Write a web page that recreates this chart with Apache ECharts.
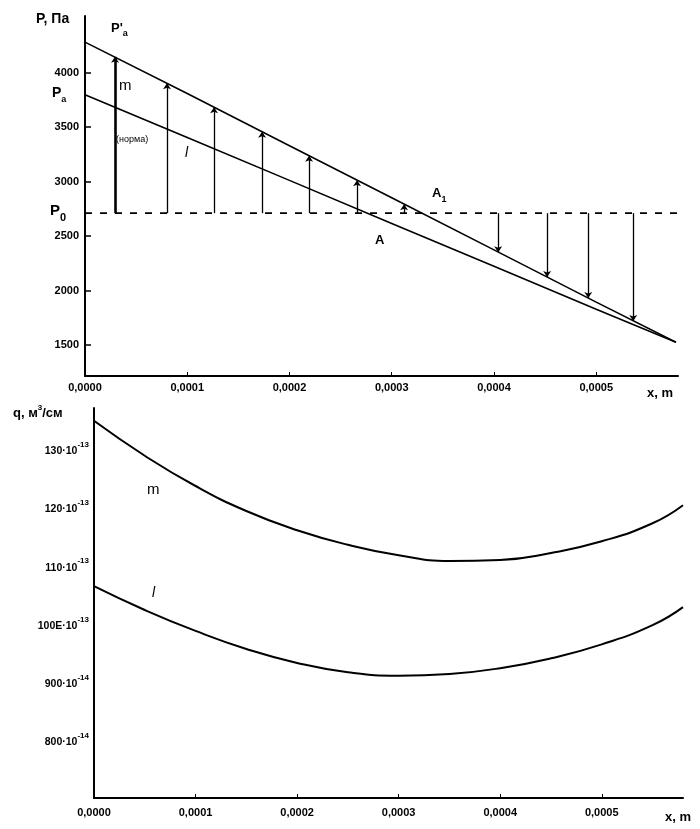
<!DOCTYPE html>
<html>
<head>
<meta charset="utf-8">
<script src="https://cdn.jsdelivr.net/npm/echarts@6/dist/echarts.min.js"></script>
<style>
html,body{margin:0;padding:0;background:#fff;}
#chart{width:700px;height:829px;}
</style>
</head>
<body>
<div id="chart"></div>
<script>
// ---- Top chart: pressure P, Pa vs x, m ----
const topX = [0, 0.0001, 0.0002, 0.0003, 0.0004, 0.0005, 0.000578];
const pPrimeA = [4280, 3808, 3329, 2851, 2373, 1893, 1525];   // line m (P'a)
const pA = [3798, 3405, 3011, 2616, 2222, 1828, 1525];        // line l (Pa, норма)
const p0Value = 2710;
const p0X = [0, 0.00058];
const arrowX = [0.0000294, 0.0000802, 0.0001262, 0.0001732, 0.0002192, 0.0002661, 0.0003121, 0.0004041, 0.000452, 0.0004922, 0.0005362];
const arrowTip = [4145, 3902, 3682, 3458, 3238, 3013, 2792, 2352, 2123, 1931, 1720];
const pTicks = [1500, 2000, 2500, 3000, 3500, 4000];
const xTicks = [0, 0.0001, 0.0002, 0.0003, 0.0004, 0.0005];

// ---- Bottom chart: q (units of 10^-13 m3/cm) vs x, m ----
const qX = [0, 0.00005, 0.0001, 0.00015, 0.0002, 0.00025, 0.0003, 0.00035, 0.0004, 0.00045, 0.0005, 0.00055, 0.00058];
const qM = [134.8, 128.8, 123.6, 119.3, 116.0, 113.5, 111.7, 110.7, 110.9, 112.1, 114.1, 117.2, 120.3];
const qL = [106.4, 102.3, 98.7, 95.6, 93.2, 91.6, 91.0, 91.3, 92.3, 94.0, 96.4, 99.7, 102.8];
const qTicks = [80, 90, 100, 110, 120, 130];
const qTickBase = ['800·10', '900·10', '100E·10', '110·10', '120·10', '130·10'];
const qTickExp = ['-14', '-14', '-13', '-13', '-13', '-13'];

const FONT = '"Liberation Sans", Arial, sans-serif';
const zip = (xs, ys) => xs.map((x, i) => [x, ys[i]]);
const fmtX = v => v.toFixed(4).replace('.', ',');

const chart = echarts.init(document.getElementById('chart'), null, {renderer: 'canvas'});

const axisLineStyle = {show: true, lineStyle: {color: '#000', width: 2}};

const arrowData = arrowX.map((x, i) => [
  {coord: [x, p0Value], lineStyle: {width: i === 0 ? 2.6 : 1.3}},
  {coord: [x, arrowTip[i]]}
]);

const option = {
  animation: false,
  backgroundColor: '#fff',
  textStyle: {fontFamily: FONT, color: '#000'},
  grid: [
    {left: 85, right: 22, top: 16, height: 360},
    {left: 94, right: 17, top: 408, height: 390}
  ],
  xAxis: [
    {
      gridIndex: 0, type: 'value', min: 0, max: 0.00058,
      axisLine: axisLineStyle,
      axisTick: {show: true, inside: true, length: 4, customValues: xTicks, lineStyle: {color: '#000', width: 1}},
      axisLabel: {customValues: xTicks, formatter: fmtX, color: '#000', fontSize: 11, fontWeight: 'bold', margin: 6, fontFamily: FONT},
      splitLine: {show: false}
    },
    {
      gridIndex: 1, type: 'value', min: 0, max: 0.00058,
      axisLine: axisLineStyle,
      axisTick: {show: true, inside: true, length: 4, customValues: xTicks, lineStyle: {color: '#000', width: 1}},
      axisLabel: {customValues: xTicks, formatter: fmtX, color: '#000', fontSize: 11, fontWeight: 'bold', margin: 9, fontFamily: FONT},
      splitLine: {show: false}
    }
  ],
  yAxis: [
    {
      gridIndex: 0, type: 'value', min: 1215, max: 4520,
      axisLine: axisLineStyle,
      axisTick: {show: true, inside: true, length: 6, customValues: pTicks, lineStyle: {color: '#000', width: 1.5}},
      axisLabel: {customValues: pTicks, formatter: v => String(v), color: '#000', fontSize: 11, fontWeight: 'bold', margin: 6, fontFamily: FONT},
      splitLine: {show: false}
    },
    {
      gridIndex: 1, type: 'value', min: 70, max: 137,
      axisLine: axisLineStyle,
      axisTick: {show: false},
      axisLabel: {
        customValues: qTicks, margin: 5,
        formatter: v => {
          const i = qTicks.indexOf(v);
          return i < 0 ? '' : '{n|' + qTickBase[i] + '}{s|' + qTickExp[i] + '}';
        },
        rich: {
          n: {fontSize: 10.5, fontWeight: 'bold', color: '#000', fontFamily: FONT, lineHeight: 16, verticalAlign: 'bottom'},
          s: {fontSize: 8, fontWeight: 'bold', color: '#000', fontFamily: FONT, lineHeight: 16, verticalAlign: 'top'}
        }
      },
      splitLine: {show: false}
    }
  ],
  series: [
    {
      name: "P'a (m)", type: 'line', xAxisIndex: 0, yAxisIndex: 0,
      data: zip(topX, pPrimeA), showSymbol: false,
      lineStyle: {color: '#000', width: 1.6}
    },
    {
      name: 'Pa (l)', type: 'line', xAxisIndex: 0, yAxisIndex: 0,
      data: zip(topX, pA), showSymbol: false,
      lineStyle: {color: '#000', width: 1.6}
    },
    {
      name: 'P0', type: 'line', xAxisIndex: 0, yAxisIndex: 0,
      data: p0X.map(x => [x, p0Value]), showSymbol: false,
      lineStyle: {color: '#000', width: 1.8, type: [7, 8]},
      markLine: {
        silent: true, animation: false,
        symbol: ['none', 'arrow'], symbolSize: 6,
        label: {show: false},
        lineStyle: {color: '#000', type: 'solid', width: 1.3},
        data: arrowData
      }
    },
    {
      name: 'q m', type: 'line', xAxisIndex: 1, yAxisIndex: 1,
      data: zip(qX, qM), showSymbol: false, smooth: 0.5,
      lineStyle: {color: '#000', width: 2}
    },
    {
      name: 'q l', type: 'line', xAxisIndex: 1, yAxisIndex: 1,
      data: zip(qX, qL), showSymbol: false, smooth: 0.5,
      lineStyle: {color: '#000', width: 2}
    }
  ],
  graphic: [
    {type: 'text', left: 36, top: 12, style: {text: 'P, Па', font: 'bold 14px ' + FONT, fill: '#000'}},
    {type: 'text', left: 111, top: 22, style: {text: "{b|P'}{s|a}", rich: {b: {font: 'bold 13px ' + FONT, fill: '#000', lineHeight: 16, verticalAlign: 'top'}, s: {font: 'bold 9px ' + FONT, fill: '#000', lineHeight: 16, verticalAlign: 'bottom'}}}},
    {type: 'text', left: 119, top: 78, style: {text: 'm', font: '15px ' + FONT, fill: '#000'}},
    {type: 'text', left: 52, top: 86, style: {text: '{b|P}{s|a}', rich: {b: {font: 'bold 14px ' + FONT, fill: '#000', lineHeight: 18, verticalAlign: 'top'}, s: {font: 'bold 9px ' + FONT, fill: '#000', lineHeight: 18, verticalAlign: 'bottom'}}}},
    {type: 'text', left: 116, top: 135, style: {text: '(норма)', font: '9px ' + FONT, fill: '#000'}},
    {type: 'text', left: 185, top: 146, style: {text: 'l', font: 'italic 14px ' + FONT, fill: '#000'}},
    {type: 'text', left: 50, top: 203, style: {text: '{b|P}{s|0}', rich: {b: {font: 'bold 15px ' + FONT, fill: '#000', lineHeight: 20, verticalAlign: 'top'}, s: {font: 'bold 11px ' + FONT, fill: '#000', lineHeight: 20, verticalAlign: 'bottom'}}}},
    {type: 'text', left: 432, top: 187, style: {text: '{b|A}{s|1}', rich: {b: {font: 'bold 13px ' + FONT, fill: '#000', lineHeight: 17, verticalAlign: 'top'}, s: {font: 'bold 9px ' + FONT, fill: '#000', lineHeight: 17, verticalAlign: 'bottom'}}}},
    {type: 'text', left: 375, top: 234, style: {text: 'A', font: 'bold 13px ' + FONT, fill: '#000'}},
    {type: 'text', left: 647, top: 387, style: {text: 'x, m', font: 'bold 13px ' + FONT, fill: '#000'}},
    {type: 'text', left: 13, top: 404, style: {text: '{b|q, м}{s|3}{b|/см}', rich: {b: {font: 'bold 13px ' + FONT, fill: '#000', lineHeight: 16, verticalAlign: 'bottom'}, s: {font: 'bold 8px ' + FONT, fill: '#000', lineHeight: 16, verticalAlign: 'top'}}}},
    {type: 'text', left: 147, top: 482, style: {text: 'm', font: '15px ' + FONT, fill: '#000'}},
    {type: 'text', left: 152, top: 586, style: {text: 'l', font: 'italic 14px ' + FONT, fill: '#000'}},
    {type: 'text', left: 665, top: 811, style: {text: 'x, m', font: 'bold 13px ' + FONT, fill: '#000'}}
  ]
};

chart.setOption(option);
</script>
</body>
</html>
